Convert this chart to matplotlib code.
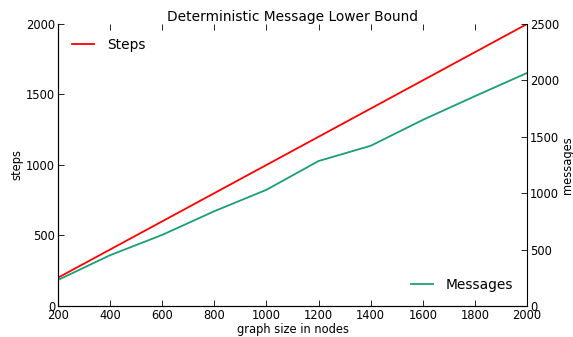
import matplotlib
import matplotlib.pyplot as plt

matplotlib.use("Agg")

graph_sizes = [200, 400, 600, 800, 1000, 1200, 1400, 1600, 1800, 2000]
steps = [200, 400, 600, 800, 1000, 1200, 1400, 1600, 1800, 2000]
messages = [230, 450, 630, 840, 1030, 1285, 1420, 1650, 1860, 2066]

TICK_SIZE = 8.3
BIG_SIZE = 9.9


def main() -> None:
    plt.rcParams["font.family"] = "DejaVu Sans"
    fig = plt.figure(figsize=(5.73, 3.37), dpi=100)
    ax = fig.add_axes([0.101, 0.092, 0.819, 0.837])
    ax2 = ax.twinx()

    line1, = ax.plot(graph_sizes, steps, color="#ff0000", lw=1.3, label="Steps")
    line2, = ax2.plot(graph_sizes, messages, color="#1b9e77", lw=1.3, label="Messages")

    ax.set_xlim(200, 2000)
    ax.set_ylim(0, 2000)
    ax2.set_ylim(0, 2500)
    ax.set_xticks(range(200, 2001, 200))
    ax.set_yticks(range(0, 2001, 500))
    ax2.set_yticks(range(0, 2501, 500))

    for a in (ax, ax2):
        a.spines["top"].set_visible(False)
        a.tick_params(direction="in", labelsize=TICK_SIZE, length=4, width=0.6, pad=2)
        for s in a.spines.values():
            s.set_linewidth(0.8)
    ax.spines["right"].set_visible(False)
    ax.tick_params(axis="x", top=True)
    ax.tick_params(axis="y", right=False)

    ax.set_xlabel("graph size in nodes", fontsize=TICK_SIZE, labelpad=1)
    ax.set_ylabel("steps", fontsize=TICK_SIZE, labelpad=2)
    ax2.set_ylabel("messages", fontsize=TICK_SIZE, labelpad=1)
    ax.set_title("Deterministic Message Lower Bound", fontsize=BIG_SIZE, pad=2)

    ax.legend(handles=[line1], loc="upper left", frameon=False, fontsize=BIG_SIZE,
              handlelength=1.6, handletextpad=0.95, borderaxespad=0.6)
    ax2.legend(handles=[line2], loc="lower right", frameon=False, fontsize=BIG_SIZE,
               handlelength=1.6, handletextpad=0.95, borderaxespad=0.6)

    fig.savefig("out.png", dpi=100)
    plt.close(fig)


if __name__ == "__main__":
    main()
